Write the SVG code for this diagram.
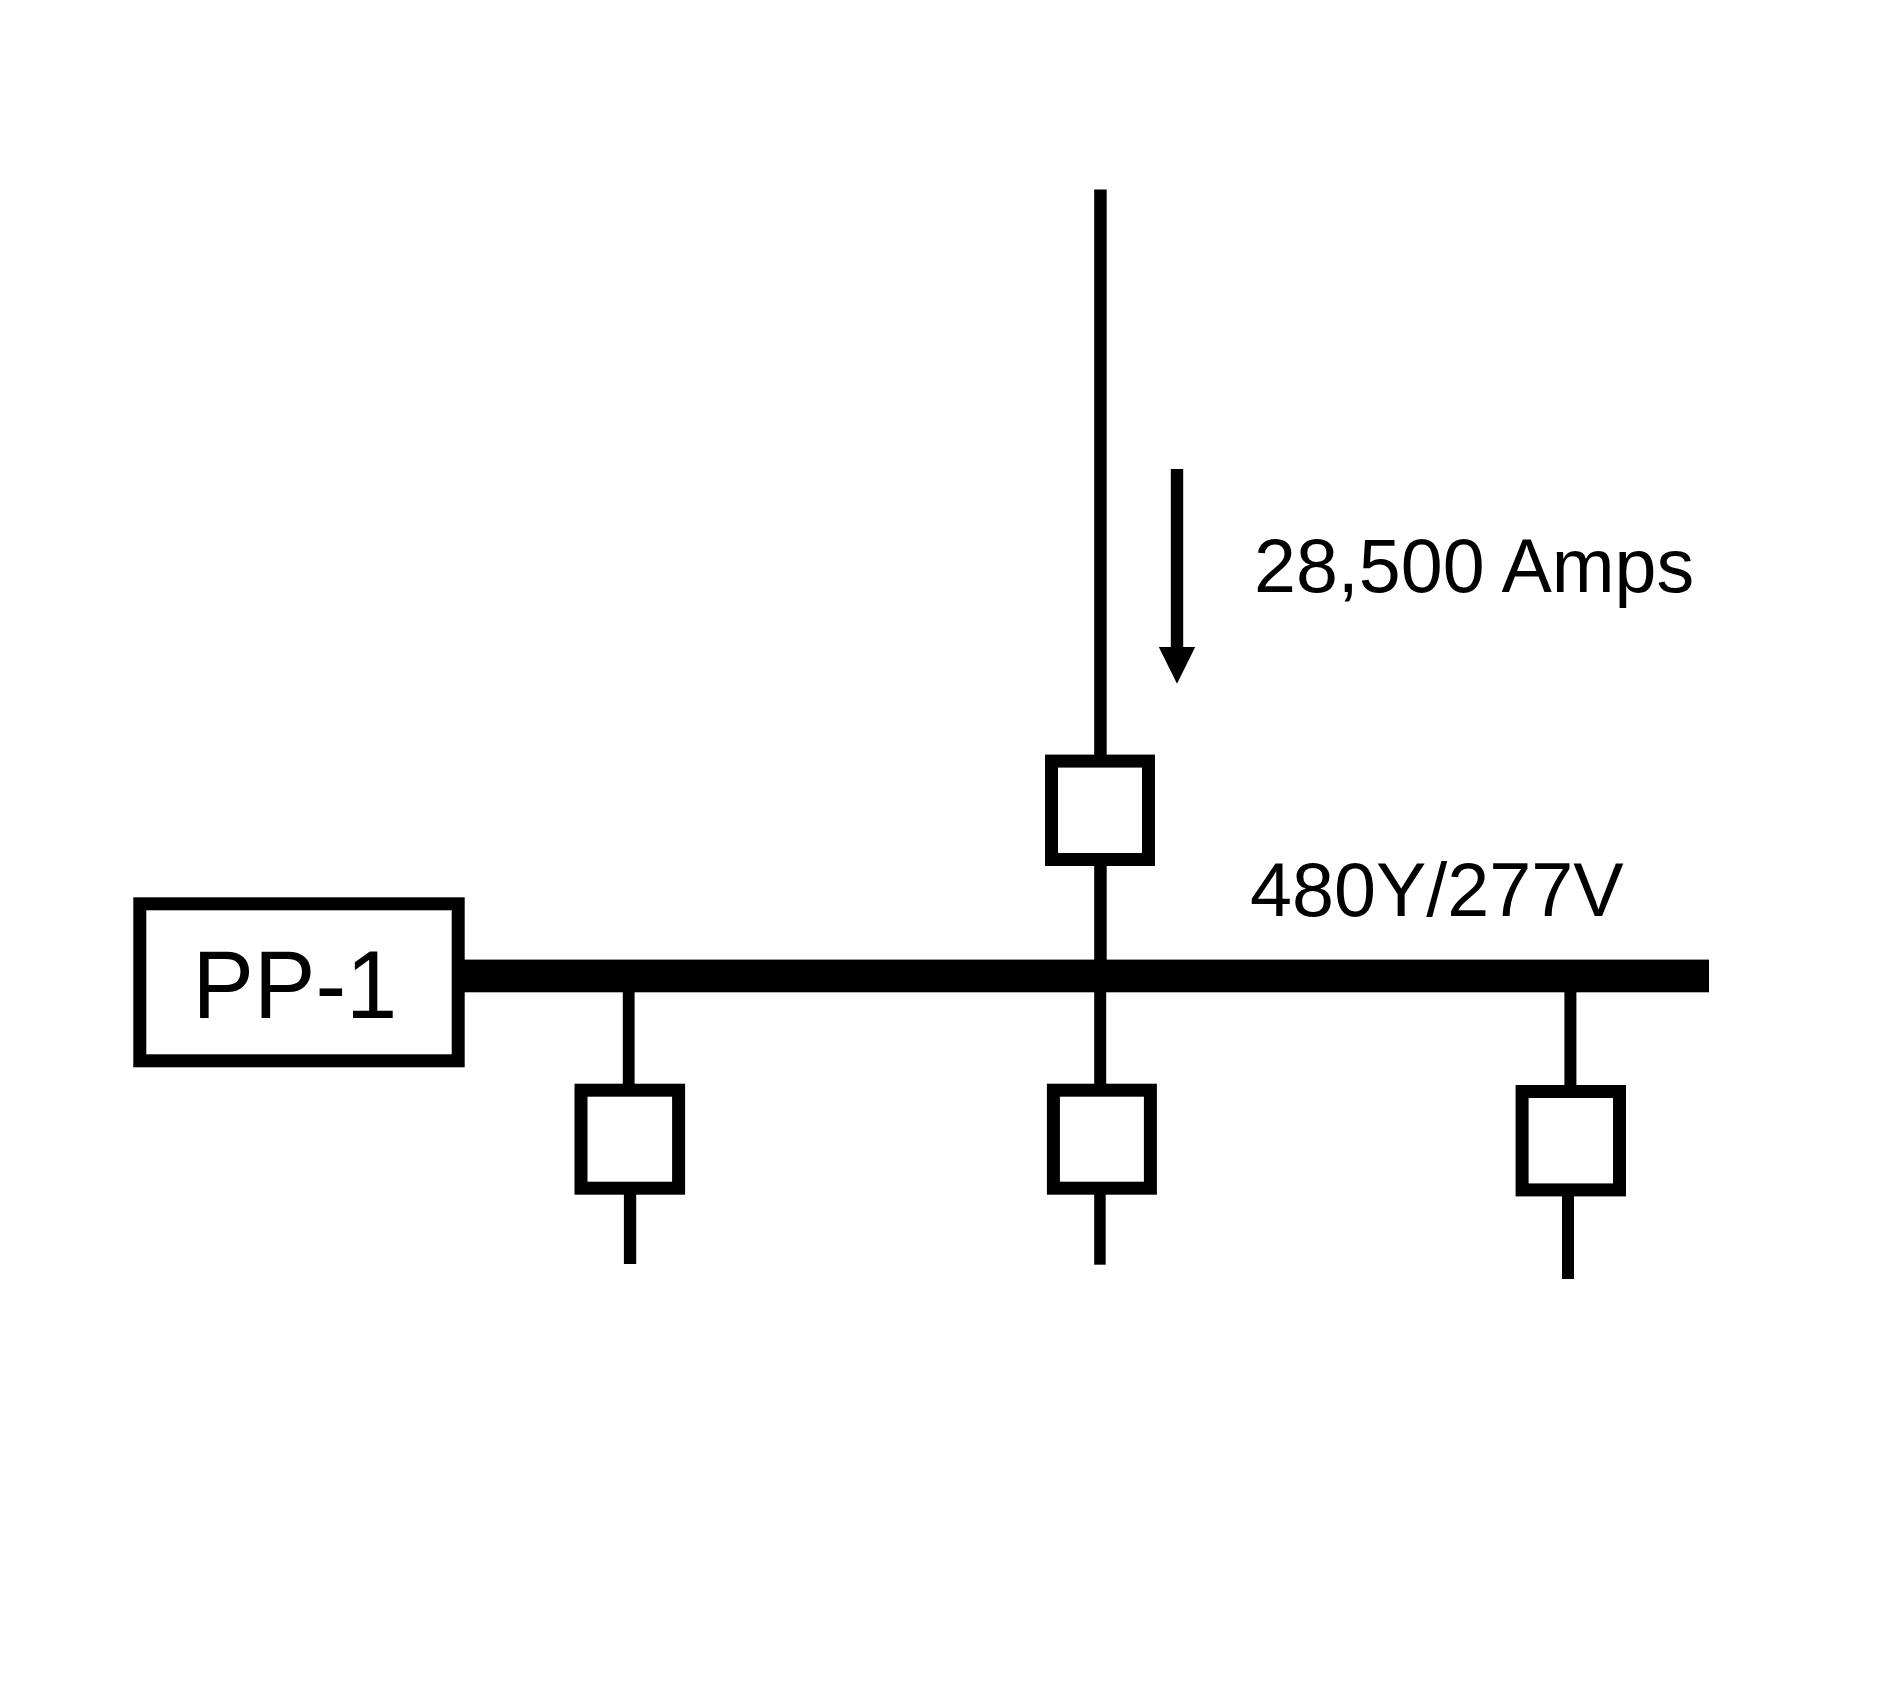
<svg xmlns="http://www.w3.org/2000/svg" width="1900" height="1695" viewBox="0 0 1900 1695">
<style>
.box{fill:#fff;stroke:#000;stroke-width:13}
.w{fill:#000}
text{font-family:"Liberation Sans",Arial,sans-serif;fill:#000}
</style>
<rect width="1900" height="1695" fill="#fff"/>
<g id="connectors">
<rect class="w" x="1094.2" y="189.5" width="12.5" height="570"/>
<rect class="w" x="1094.2" y="860" width="12.5" height="105"/>
<rect id="bus" class="w" x="460" y="959.6" width="1249" height="32.7"/>
<rect class="w" x="622.8" y="985" width="11.8" height="104"/>
<rect class="w" x="1094.2" y="985" width="12" height="104"/>
<rect class="w" x="1564.4" y="985" width="12" height="105"/>
<rect class="w" x="623.9" y="1188" width="12.3" height="76"/>
<rect class="w" x="1094.2" y="1188" width="11.5" height="76.7"/>
<rect class="w" x="1562" y="1190" width="12" height="89"/>
<g id="arrow">
<rect class="w" x="1170.8" y="469" width="12.4" height="180"/>
<polygon class="w" points="1158.8,647 1195.2,647 1177,683.8"/>
</g>
</g>
<g id="pp-1">
<rect class="box" x="139.8" y="903.8" width="318.4" height="157"/>
<text transform="translate(192.5 1017.5) scale(.95 1)" font-size="97">PP-1</text>
</g>
<g id="breaker-main"><rect class="box" x="1051.5" y="761.1" width="97" height="98.4"/></g>
<g id="breaker-1"><rect class="box" x="581" y="1090.2" width="97.6" height="98"/></g>
<g id="breaker-2"><rect class="box" x="1053.4" y="1090.2" width="97" height="98"/></g>
<g id="breaker-3"><rect class="box" x="1522.1" y="1091.5" width="97.4" height="98.4"/></g>
<g id="label-current"><text x="1254" y="591.5" font-size="75.4">28,500 Amps</text></g>
<g id="label-voltage"><text x="1250" y="915.5" font-size="75.5">480Y/277V</text></g>
</svg>
